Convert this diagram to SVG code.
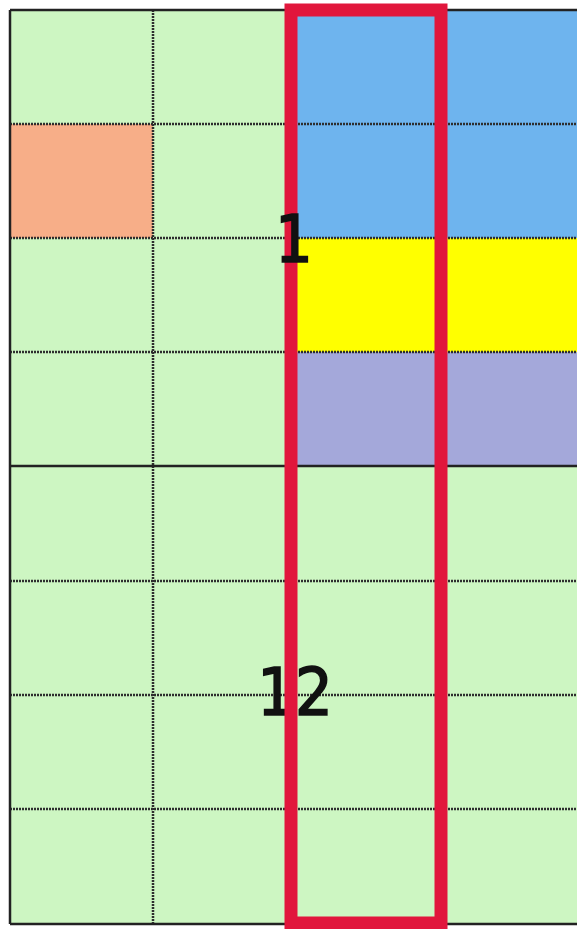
<svg xmlns="http://www.w3.org/2000/svg" width="577" height="929" viewBox="0 0 577 929">
<style>
.dash{stroke:#2e2e2e;stroke-width:2.5;stroke-dasharray:2 1;fill:none}
.solid{stroke:#222;stroke-width:2.5;fill:none}
.lbl{font-family:"DejaVu Sans Condensed","DejaVu Sans","Liberation Sans",sans-serif;font-size:66px;fill:#111;stroke:#111;stroke-width:1.6;text-anchor:middle}
</style>
<rect x="0" y="0" width="577" height="929" fill="#ffffff"/>
<g id="cells">
<rect id="green-bg" x="10" y="10" width="567" height="914" fill="#CDF6C2"/>
<rect id="orange" x="10" y="124" width="143" height="114" fill="#F7AE88"/>
<rect id="blue" x="296" y="10" width="281" height="228" fill="#6EB4EE"/>
<rect id="yellow" x="296" y="238" width="281" height="114" fill="#FFFF00"/>
<rect id="purple" x="296" y="352" width="281" height="114" fill="#A4A8DA"/>
</g>
<g id="grid">
<line class="dash" x1="153" y1="10" x2="153" y2="924"/>
<line class="dash" x1="10" y1="124" x2="577" y2="124"/>
<line class="dash" x1="10" y1="238" x2="577" y2="238"/>
<line class="dash" x1="10" y1="352" x2="577" y2="352"/>
<line class="dash" x1="10" y1="581" x2="577" y2="581"/>
<line class="dash" x1="10" y1="695" x2="577" y2="695"/>
<line class="dash" x1="10" y1="809" x2="577" y2="809"/>
<line class="solid" x1="10" y1="466" x2="577" y2="466"/>
<line class="solid" x1="10" y1="10" x2="577" y2="10"/>
<line class="solid" x1="10" y1="924" x2="577" y2="924"/>
<line class="solid" x1="10" y1="10" x2="10" y2="924"/>
</g>
<text id="label-12" class="lbl" x="295" y="715">12</text>
<g id="highlight">
<rect x="291" y="10" width="150" height="913" fill="none" stroke="#E1163C" stroke-width="13"/>
</g>
<text id="label-1" class="lbl" x="294" y="262">1</text>
</svg>
